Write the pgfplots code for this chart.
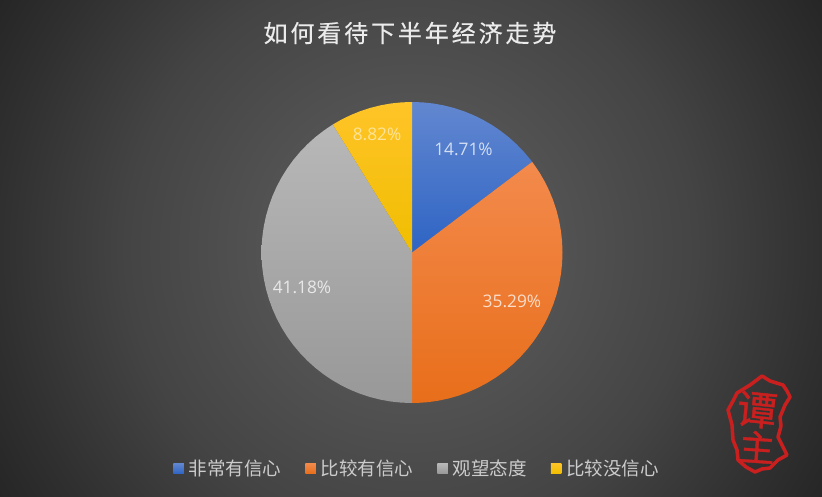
\documentclass[border=0pt]{standalone}
\usepackage{fontspec}
\setmainfont{Open Sans}
\newfontfamily\cjk{Noto Sans CJK SC}
\newfontfamily\cjkt[LetterSpace=12,FakeBold=0.3]{Noto Sans CJK SC}
\newfontfamily\cjks[FakeBold=1]{Noto Sans CJK SC}
\usepackage{pgfplots}
\usepgfplotslibrary{polar}
\pgfplotsset{compat=1.18}
\definecolor{bg0}{HTML}{5A5A5A}
\definecolor{bg1}{HTML}{525252}
\definecolor{bg2}{HTML}{444444}
\definecolor{bg3}{HTML}{303030}
\definecolor{bg4}{HTML}{262626}
\definecolor{seal}{HTML}{C9201F}
% 1bp of the shading is 20 pixels of the picture
\pgfdeclareradialshading{bgglow}{\pgfpointorigin}{
  color(0bp)=(bg0); color(7.55bp)=(bg1); color(14.25bp)=(bg2); color(20.55bp)=(bg3); color(24bp)=(bg4); color(50bp)=(bg4)}

\begin{document}
\begin{tikzpicture}[x=1pt,y=1pt]
\begin{scope}
\clip (0,-497) rectangle (822,0);
\shade[shading=bgglow] (-89,-748.5) rectangle (911,251.5);
\end{scope}
\path[use as bounding box] (0,-497) rectangle (822,0);

\begin{polaraxis}[
    at={(412pt,-252.5pt)}, anchor=center,
    width=301pt, height=301pt, scale only axis,
    hide axis, clip=false,
    xmin=0, xmax=360, ymin=0, ymax=1,
    legend columns=4,
    legend cell align=left,
    legend image code/.code={\path[draw=none,#1] (0pt,-5.25pt) rectangle (10.5pt,5.25pt);},
    legend style={
        at={(axis description cs:-0.293,-0.2176)}, anchor=west,
        draw=none, fill=none, inner sep=0pt, outer sep=0pt,
        font=\cjk\fontsize{18.5}{20}\selectfont,
        text=white!80!black,
        /tikz/every odd column/.style={column sep=3pt},
        /tikz/every even column/.style={column sep=22pt},
    },
]
\addplot[draw=none, forget plot, top color={rgb,255:red,98;green,135;blue,208}, bottom color={rgb,255:red,46;green,100;blue,196}] coordinates {
  (0,0) (90,1) (86,1) (82,1) (78,1) (74,1) (70,1) (66,1) (62,1) (58,1) (54,1) (50,1) (46,1) (42,1) (38,1) (37.04,1)
};
\addplot[draw=none, forget plot, top color={rgb,255:red,243;green,138;blue,76}, bottom color={rgb,255:red,232;green,110;blue,26}] coordinates {
  (0,0) (37.04,1) (36,1) (32,1) (28,1) (24,1) (20,1) (16,1) (12,1) (8,1) (4,1) (0,1) (356,1) (352,1) (348,1) (344,1) (340,1) (336,1) (332,1) (328,1) (324,1) (320,1) (316,1) (312,1) (308,1) (304,1) (300,1) (296,1) (292,1) (288,1) (284,1) (280,1) (276,1) (272,1) (270,1)
};
\addplot[draw=none, forget plot, top color={rgb,255:red,184;green,184;blue,184}, bottom color={rgb,255:red,152;green,152;blue,152}] coordinates {
  (0,0) (270,1) (266,1) (262,1) (258,1) (254,1) (250,1) (246,1) (242,1) (238,1) (234,1) (230,1) (226,1) (222,1) (218,1) (214,1) (210,1) (206,1) (202,1) (198,1) (194,1) (190,1) (186,1) (182,1) (178,1) (174,1) (170,1) (166,1) (162,1) (158,1) (154,1) (150,1) (146,1) (142,1) (138,1) (134,1) (130,1) (126,1) (122,1) (121.75,1)
};
\addplot[draw=none, forget plot, top color={rgb,255:red,255;green,196;blue,40}, bottom color={rgb,255:red,240;green,190;blue,0}] coordinates {
  (0,0) (121.75,1) (118,1) (114,1) (110,1) (106,1) (102,1) (98,1) (94,1) (90,1)
};

\addlegendimage{top color={rgb,255:red,98;green,135;blue,208}, bottom color={rgb,255:red,46;green,100;blue,196}}
\addlegendentry{非常有信心}
\addlegendimage{top color={rgb,255:red,243;green,138;blue,76}, bottom color={rgb,255:red,232;green,110;blue,26}}
\addlegendentry{比较有信心}
\addlegendimage{top color={rgb,255:red,184;green,184;blue,184}, bottom color={rgb,255:red,152;green,152;blue,152}}
\addlegendentry{观望态度}
\addlegendimage{top color={rgb,255:red,255;green,196;blue,40}, bottom color={rgb,255:red,240;green,190;blue,0}}
\addlegendentry{比较没信心}

\tikzset{lab/.style={font=\fontsize{17.3}{19}\selectfont, text=white, text opacity=0.75}}
\node[lab] at (axis cs:63.55,0.768) {14.71\%};
\node[lab] at (axis cs:334.13,0.738) {35.29\%};
\node[lab] at (axis cs:197.41,0.766) {41.18\%};
\node[lab, text opacity=0.55] at (axis cs:106.45,0.821) {8.82\%};
\end{polaraxis}

\node[text=white!92!black, font=\cjkt\fontsize{24}{26}\selectfont] at (410,-33) {如何看待下半年经济走势};

% seal, lower right
\draw[seal, line width=3.5pt, line join=round]
  (762,-376) -- (770,-381) -- (783,-385) -- (787,-391) -- (790,-397) -- (785,-405) -- (780,-417)
  -- (781,-426) -- (778,-437) -- (783,-447) -- (787,-455) -- (778,-460) -- (770,-468) -- (762,-469)
  -- (755,-472) -- (746,-467) -- (738,-460) -- (737,-450) -- (733,-440) -- (732,-425) -- (728,-410)
  -- (733,-401) -- (737,-393) -- (750,-385) -- cycle;
\node[seal, font=\cjks\fontsize{40}{42}\selectfont, rotate=-6] at (757,-410) {谭};
\node[seal, font=\cjks\fontsize{36}{38}\selectfont, rotate=-4] at (757,-447) {主};
\end{tikzpicture}
\end{document}
